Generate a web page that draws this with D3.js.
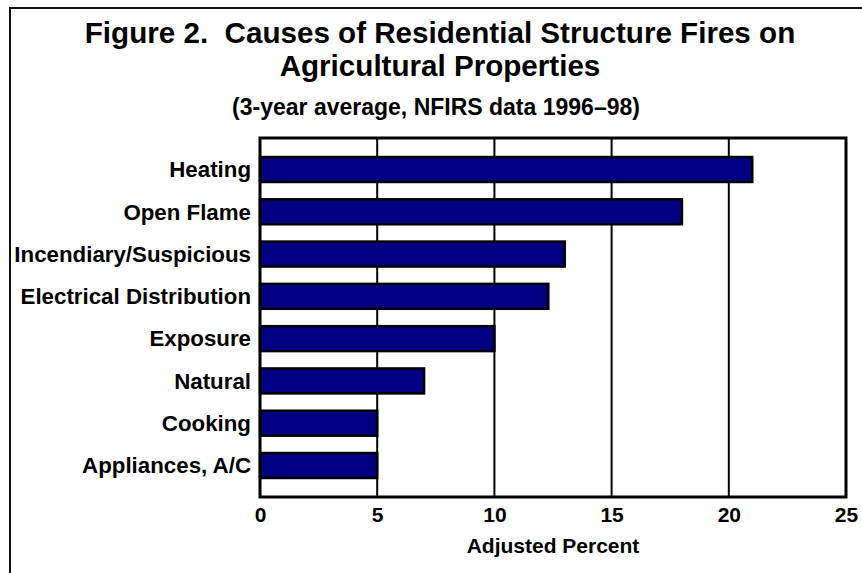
<!DOCTYPE html>
<html>
<head>
<meta charset="utf-8">
<script src="https://cdn.jsdelivr.net/npm/d3@7"></script>
<style>
  body { margin: 0; background: #fff; }
  text { font-family: "Liberation Sans", Arial, sans-serif; font-weight: bold; fill: #000; white-space: pre; }
</style>
</head>
<body>
<svg id="chart" width="862" height="573"></svg>
<script>
// causes, top to bottom
var causes = ["Heating", "Open Flame", "Incendiary/Suspicious", "Electrical Distribution",
              "Exposure", "Natural", "Cooking", "Appliances, A/C"];
var percents = [21, 18, 13, 12.3, 10, 7, 5, 5];
var xTicks = [0, 5, 10, 15, 20, 25];
var titleLines = ["Figure 2.  Causes of Residential Structure Fires on", "Agricultural Properties"];
var subtitle = "(3-year average, NFIRS data 1996\u201398)";
var xTitle = "Adjusted Percent";

var svg = d3.select("#chart");
var plotL = 260, plotR = 846, plotT = 138, plotB = 497;

// outer frame (runs off the right and bottom edge)
svg.append("rect")
  .attr("x", 10).attr("y", 8).attr("width", 870).attr("height", 590)
  .attr("fill", "none").attr("stroke", "#111").attr("stroke-width", 2);

svg.selectAll(".title").data(titleLines).enter().append("text")
  .attr("x", 440).attr("y", function(d, i) { return 43 + i * 33; })
  .attr("text-anchor", "middle").style("font-size", "29.6px")
  .text(function(d) { return d; });

svg.append("text")
  .attr("x", 436).attr("y", 115)
  .attr("text-anchor", "middle").style("font-size", "23px")
  .text(subtitle);

var x = d3.scaleLinear().domain([0, 25]).range([plotL, plotR]);
var y = d3.scaleBand().domain(causes).range([plotT, plotB])
  .paddingInner(0.41).paddingOuter(0.45);

// grid lines
svg.selectAll(".grid").data(xTicks.slice(1, -1)).enter().append("line")
  .attr("x1", function(d) { return x(d); }).attr("x2", function(d) { return x(d); })
  .attr("y1", plotT).attr("y2", plotB)
  .attr("stroke", "#000").attr("stroke-width", 2);

// bars
svg.selectAll(".bar").data(percents).enter().append("rect")
  .attr("x", x(0))
  .attr("y", function(d, i) { return y(causes[i]); })
  .attr("width", function(d) { return x(d) - x(0); })
  .attr("height", y.bandwidth())
  .attr("fill", "#000080").attr("stroke", "#000").attr("stroke-width", 2.5);

// plot border
svg.append("rect")
  .attr("x", plotL).attr("y", plotT).attr("width", plotR - plotL).attr("height", plotB - plotT)
  .attr("fill", "none").attr("stroke", "#000").attr("stroke-width", 3);

// category labels
svg.selectAll(".cat").data(causes).enter().append("text")
  .attr("x", 251)
  .attr("y", function(d) { return y(d) + y.bandwidth() / 2; })
  .attr("dy", "0.35em")
  .attr("text-anchor", "end").style("font-size", "22.3px")
  .text(function(d) { return d; });

// x axis labels
var xAxis = svg.append("g").attr("transform", "translate(0," + plotB + ")")
  .call(d3.axisBottom(x).tickValues(xTicks).tickSize(0).tickPadding(10));
xAxis.select(".domain").remove();
xAxis.selectAll("text").attr("font-family", null).attr("font-size", null)
  .style("font-size", "21px").attr("dy", "0.71em");

svg.append("text")
  .attr("x", (plotL + plotR) / 2).attr("y", 553)
  .attr("text-anchor", "middle").style("font-size", "21px")
  .text(xTitle);
</script>
</body>
</html>
